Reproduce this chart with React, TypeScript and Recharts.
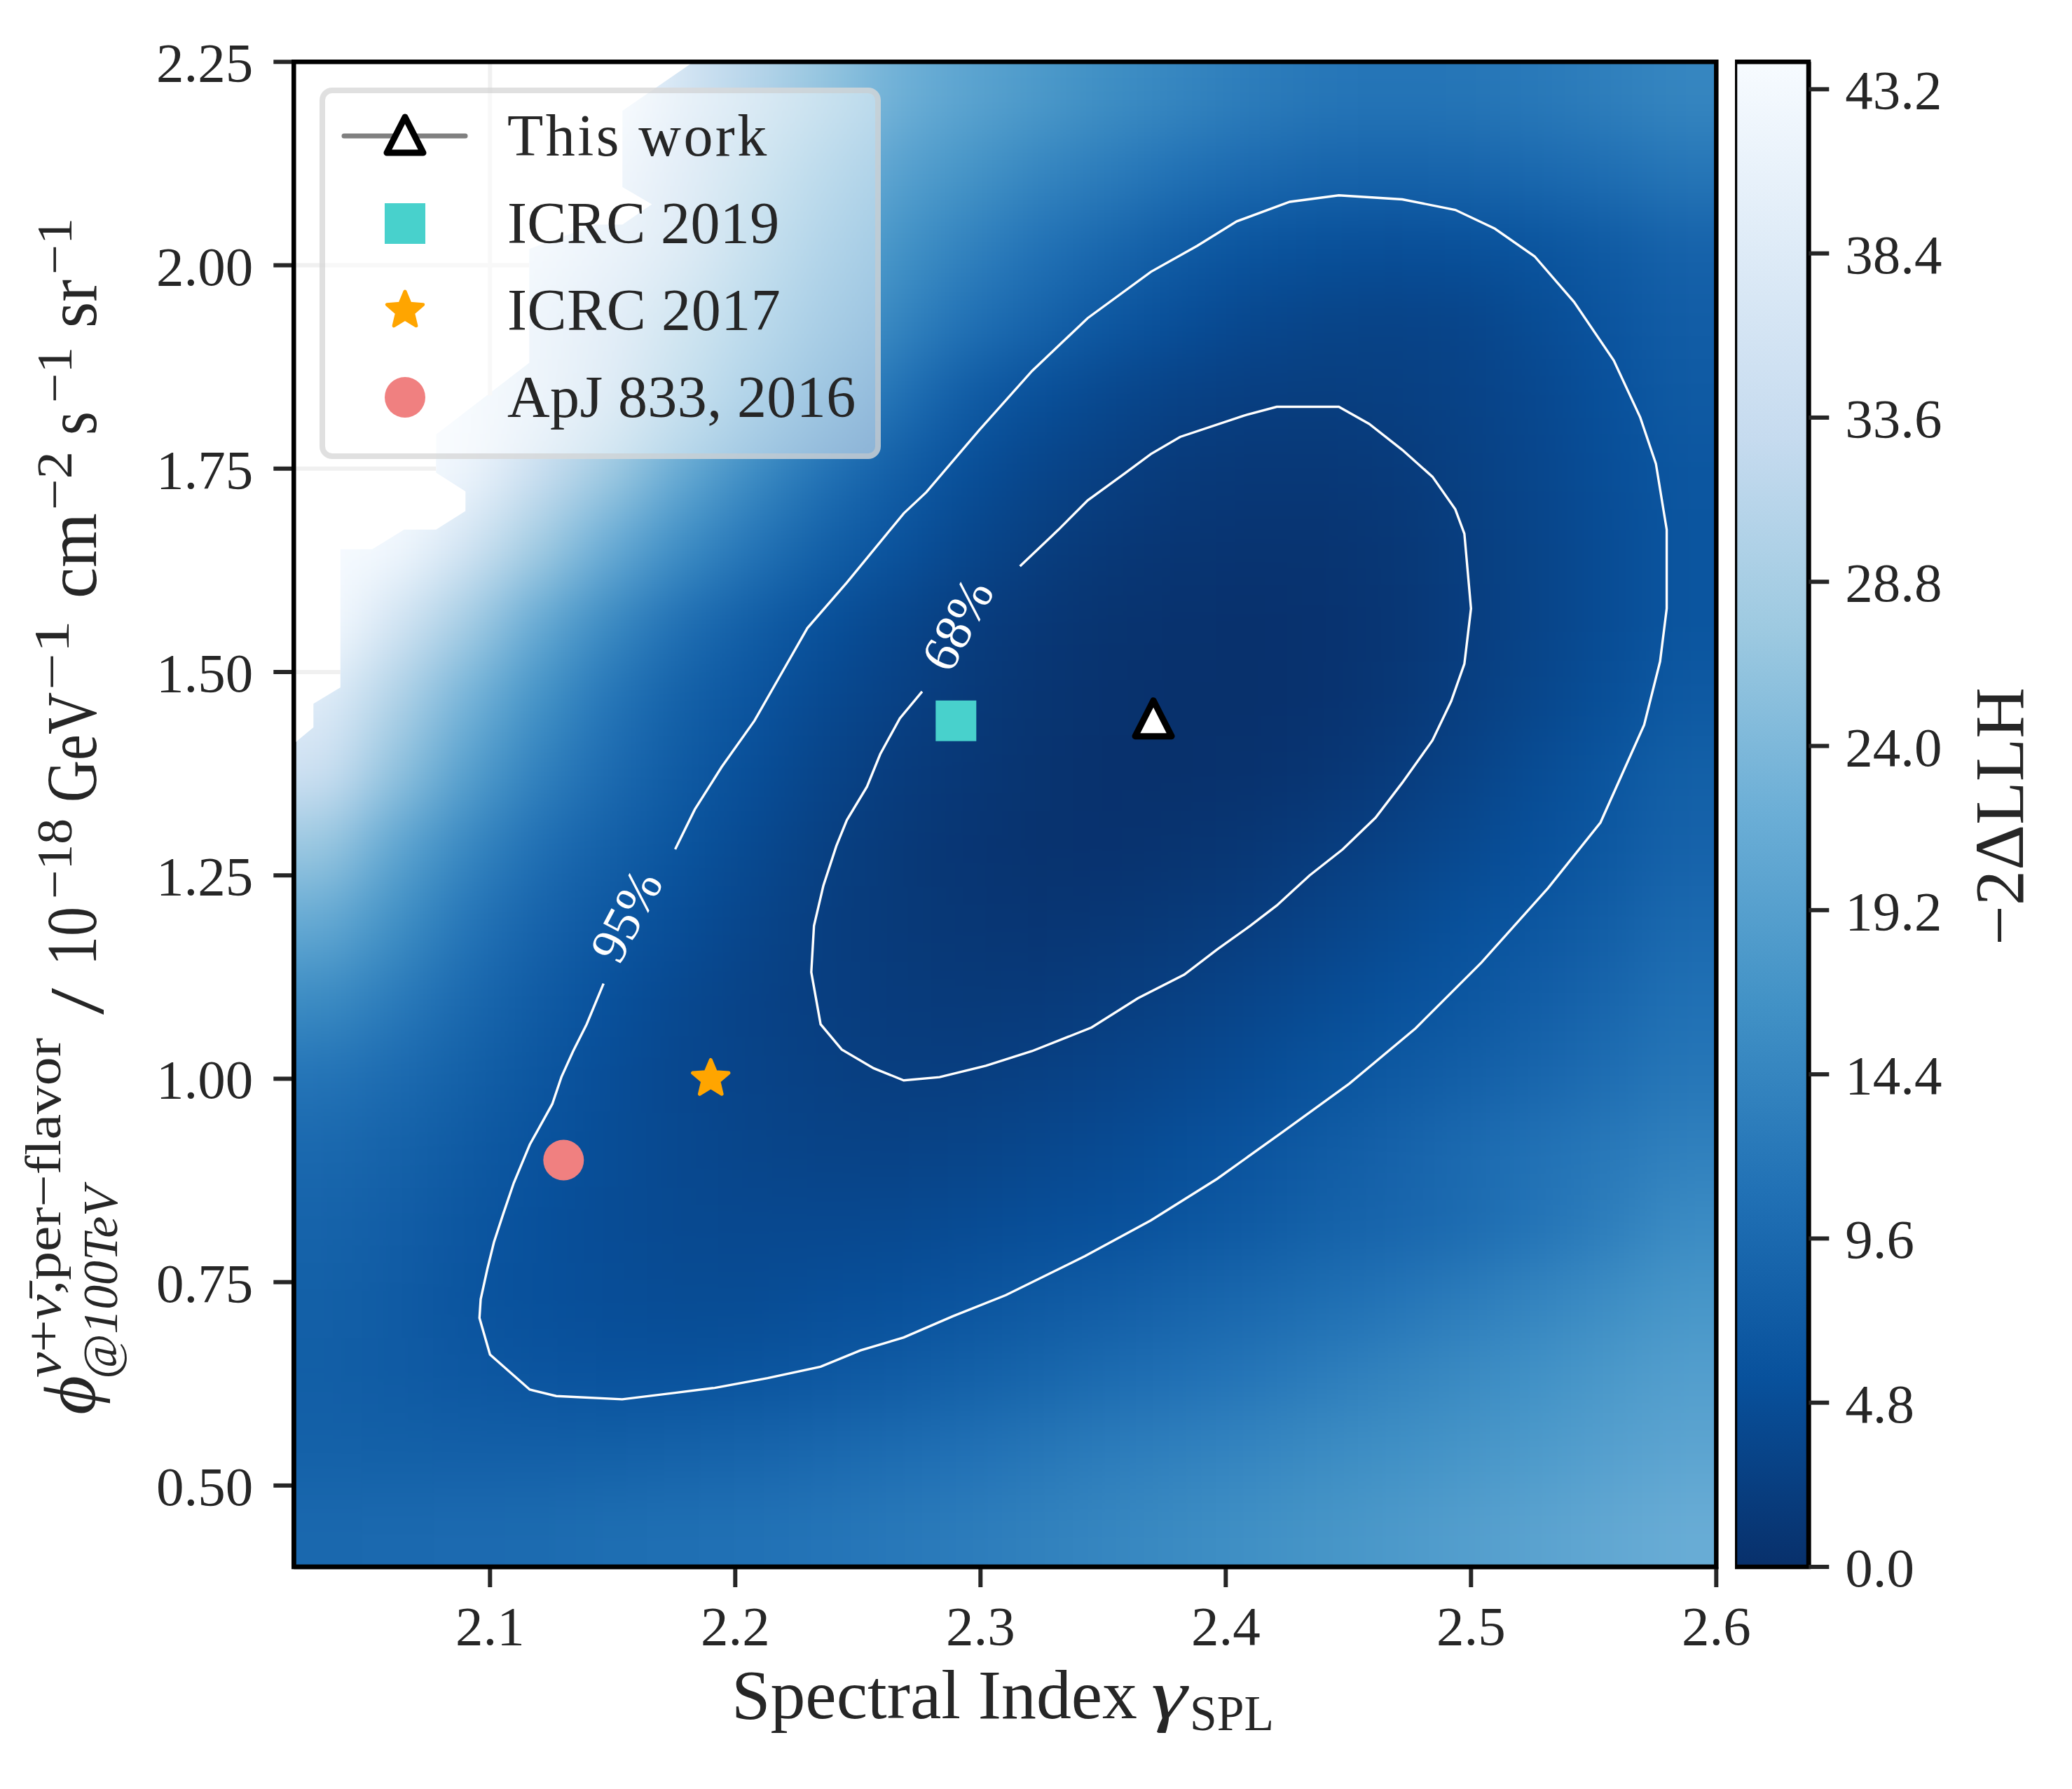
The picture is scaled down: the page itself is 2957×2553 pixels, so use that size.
import React from 'react';
import {
  Area,
  Bar,
  ComposedChart,
  Legend,
  ReferenceArea,
  ReferenceLine,
  Scatter,
  XAxis,
  YAxis,
} from 'recharts';

const FONT = '"Liberation Serif", serif';
const INK = '#262626';

const xTicks = [2.1, 2.2, 2.3, 2.4, 2.5, 2.6];
const yTicks = [0.5, 0.75, 1.0, 1.25, 1.5, 1.75, 2.0, 2.25];
const barTicks = [0, 4.8, 9.6, 14.4, 19.2, 24, 28.8, 33.6, 38.4, 43.2];

// Blues_r
const blues = ['#08306b', '#08519c', '#2171b5', '#4292c6', '#6baed6', '#9ecae1', '#c6dbef', '#deebf7', '#f7fbff'];

// -2 delta LLH, one row per flux value, top to bottom
const xCells = [2.0345, 2.0635, 2.0925, 2.1215, 2.1505, 2.1795, 2.2085, 2.2375, 2.2665, 2.2955, 2.3245, 2.3535, 2.3825, 2.4115, 2.4405, 2.4695, 2.4985, 2.5275, 2.5565, 2.5855];
const yCells = [2.2038, 2.1113, 2.0188, 1.9263, 1.8338, 1.7413, 1.6488, 1.5563, 1.4638, 1.3713, 1.2788, 1.1863, 1.0938, 1.0013, 0.9088, 0.8163, 0.7238, 0.6313, 0.5388, 0.4463];
const llhRows = [
  [44, 44, 44, 44, 44, 36, 31, 26.5, 22.5, 20, 18, 16, 14.5, 13, 12, 11.5, 11.8, 12.4, 13.3, 14.5],
  [44, 44, 44, 44, 40, 33, 28, 23.5, 19.5, 17, 14.5, 12.8, 11, 9.8, 9, 8.7, 9, 9.6, 10.5, 11.8],
  [44, 44, 44, 41, 37, 32, 26, 21, 16.8, 13.8, 11.2, 9.2, 7.3, 6, 5.3, 5, 5.3, 6, 7, 8.5],
  [44, 44, 42, 38, 33.5, 28, 23.5, 18.5, 14.5, 11, 8.7, 6.6, 5, 3.9, 3.3, 3.1, 3.4, 4.6, 6.1, 7.6],
  [44, 44, 42, 38, 32, 26, 20.5, 15.5, 11, 7.2, 5.2, 3.8, 2.9, 2.4, 2.3, 2.5, 3, 3.9, 5.4, 7],
  [44, 44, 42, 34, 27.5, 21, 15.5, 11, 7.8, 5.2, 3.5, 2.5, 1.7, 1.3, 1.3, 1.7, 2.6, 3.7, 5, 6.3],
  [44, 43, 36, 28, 21.5, 15.7, 11.5, 8, 5.9, 3.8, 2.3, 1.4, 0.9, 0.7, 0.7, 1.1, 2.3, 3.3, 4.7, 6.2],
  [44, 36, 28.5, 21, 15, 10.5, 7.5, 5.4, 3.6, 2.2, 1.2, 0.6, 0.3, 0.2, 0.4, 1, 2.2, 3.3, 4.7, 6.2],
  [39, 30, 23, 16.5, 11.5, 8, 6.1, 4.2, 2.9, 1.6, 0.8, 0.3, 0.1, 0.1, 0.4, 1.1, 2.4, 3.6, 5.1, 6.8],
  [35, 26, 19, 13.5, 9.8, 7, 5, 3.4, 2, 1.2, 0.6, 0.2, 0.1, 0.3, 0.9, 1.9, 3.1, 4.6, 6.2, 8],
  [27, 20, 14.5, 10.5, 7.9, 6, 4.2, 2.6, 1.6, 0.9, 0.5, 0.4, 0.6, 1.1, 2, 3, 4.2, 5.4, 6.7, 8.5],
  [21, 16, 11.5, 8.5, 6.5, 4.9, 3.5, 2.4, 1.6, 1.1, 0.9, 1.1, 1.6, 2.2, 3.2, 4.3, 5.5, 6.4, 7.8, 9.7],
  [15.5, 12.5, 9.4, 7.2, 5.4, 4, 3, 2.4, 1.9, 1.6, 1.7, 2.1, 2.7, 3.5, 4.5, 5.5, 6.3, 7.6, 9, 10.8],
  [11.5, 9.8, 8, 6.4, 4.9, 3.9, 3.2, 2.7, 2.3, 2.4, 2.7, 3.2, 3.9, 4.7, 5.8, 6.8, 7.9, 9, 10.3, 11.8],
  [9.5, 8.4, 7, 5.7, 4.8, 4, 3.5, 3.1, 3, 3.3, 3.8, 4.4, 5.2, 6.1, 7.2, 8.5, 9.8, 11, 12.2, 13.5],
  [8.6, 7.6, 6.4, 5.4, 4.7, 4.2, 4, 4, 4.2, 4.5, 5, 5.4, 6.2, 7, 8.2, 9, 10, 11.3, 13, 15.4],
  [8, 7.2, 6.1, 5.4, 4.9, 4.6, 4.6, 5, 5.4, 6.1, 6.8, 7.6, 8.6, 9.4, 10.4, 11.5, 12.8, 14.2, 15.7, 17.2],
  [7.8, 7.2, 6.6, 6.1, 5.7, 5.7, 6, 6.6, 7.2, 8, 8.9, 9.9, 10.7, 11.7, 12.8, 14, 15.2, 16.4, 17.6, 18.8],
  [8.2, 8, 7.9, 7.9, 8, 8.4, 8.8, 9.4, 10.1, 10.9, 11.8, 12.8, 13.5, 14.4, 15.3, 16.2, 17.1, 18, 19.1, 20],
  [9.5, 9.6, 9.8, 10, 10.4, 10.6, 11, 11.5, 12.2, 12.9, 13.7, 14.5, 15.3, 16.1, 17, 17.9, 18.8, 19.7, 20.6, 21.6],
];

// lower edge of the part of the scan that has no values (top left)
const noDataEdge = [
  [2.02, 1.412], [2.028, 1.432], [2.028, 1.461], [2.039, 1.481], [2.039, 1.651], [2.052, 1.651], [2.065, 1.675],
  [2.078, 1.675], [2.09, 1.698], [2.09, 1.722], [2.078, 1.745], [2.078, 1.792], [2.116, 1.88], [2.116, 2.02],
  [2.143, 2.05], [2.154, 2.05], [2.166, 2.075], [2.154, 2.096], [2.154, 2.19], [2.183, 2.25],
];
const gridSegments = [
  [[2.1, 1.84], [2.1, 2.25]],
  [[2.02, 2.0], [2.116, 2.0]],
  [[2.02, 1.75], [2.078, 1.75]],
  [[2.02, 1.5], [2.039, 1.5]],
];

const contour95 = [
  [2.1463, 1.117], [2.1394, 1.067], [2.1339, 1.034], [2.1291, 1.002], [2.1254, 0.969], [2.1162, 0.919], [2.1097, 0.872],
  [2.1054, 0.834], [2.1016, 0.799], [2.0989, 0.766], [2.0962, 0.729], [2.0957, 0.706], [2.1, 0.661], [2.1162, 0.618],
  [2.127, 0.61], [2.1539, 0.606], [2.1755, 0.614], [2.1916, 0.62], [2.2132, 0.632], [2.2348, 0.646], [2.251, 0.666],
  [2.2687, 0.682], [2.2887, 0.708], [2.3103, 0.734], [2.3426, 0.782], [2.3695, 0.826], [2.3965, 0.877], [2.4234, 0.935],
  [2.4504, 0.994], [2.4774, 1.062], [2.5043, 1.143], [2.5313, 1.234], [2.5528, 1.315], [2.5706, 1.435], [2.5771, 1.513],
  [2.5798, 1.578], [2.5798, 1.675], [2.5754, 1.756], [2.569, 1.813], [2.5582, 1.883], [2.542, 1.955], [2.5259, 2.011],
  [2.5097, 2.045], [2.4936, 2.068], [2.472, 2.081], [2.4461, 2.086], [2.4261, 2.078], [2.4045, 2.054], [2.3884, 2.024],
  [2.3695, 1.992], [2.3437, 1.935], [2.321, 1.87], [2.2994, 1.797], [2.2779, 1.721], [2.2687, 1.695], [2.2455, 1.61],
  [2.2294, 1.554], [2.2186, 1.497], [2.2078, 1.44], [2.1944, 1.383], [2.1835, 1.331], [2.1755, 1.282],
];
const contour68 = [
  [2.3161, 1.63], [2.3318, 1.675], [2.3437, 1.711], [2.3588, 1.744], [2.3695, 1.768], [2.3814, 1.789], [2.4072, 1.815],
  [2.4208, 1.826], [2.4461, 1.826], [2.4585, 1.805], [2.472, 1.773], [2.4843, 1.74], [2.4936, 1.7], [2.4973, 1.67],
  [2.5, 1.578], [2.4973, 1.51], [2.4919, 1.464], [2.4843, 1.416], [2.472, 1.364], [2.4611, 1.321], [2.4477, 1.282],
  [2.4342, 1.25], [2.4208, 1.213], [2.41, 1.188], [2.3965, 1.159], [2.3831, 1.128], [2.3642, 1.099], [2.3453, 1.063],
  [2.321, 1.034], [2.3022, 1.016], [2.2833, 1.002], [2.2687, 0.998], [2.2564, 1.013], [2.2434, 1.036], [2.2348, 1.067],
  [2.231, 1.131], [2.2321, 1.188], [2.2359, 1.237], [2.2412, 1.286], [2.2455, 1.318], [2.2537, 1.359], [2.2591, 1.399],
  [2.2671, 1.443], [2.2762, 1.476],
];
const contourLabels = [
  { x: 2.1575, y: 1.197, text: '95%' },
  { x: 2.2925, y: 1.555, text: '68%' },
];

const thisWork = [{ x: 2.3705, y: 1.44 }];
const icrc2019 = [{ x: 2.29, y: 1.44 }];
const icrc2017 = [{ x: 2.19, y: 1.0 }];
const apj2016 = [{ x: 2.13, y: 0.9 }];

const legendRows = ['This work', 'ICRC 2019', 'ICRC 2017', 'ApJ 833, 2016'];
const legendSpacing = [3.4, 0.4, 0.6, 0.4];

// pieces of the rotated y label: text, baseline x, start y, length, size
const yLabelParts: [string, number, number, number, number][] = [
  ['@100TeV', 167, 1968, 275, 70],
  ['/', 147, 1448, 38, 110],
  ['10', 137, 1378, 84, 102],
  ['−18', 102, 1283, 115, 72],
  ['GeV', 137, 1145, 157, 102],
  ['−1', 98, 985, 100, 72],
  ['cm', 137, 854, 122, 102],
  ['−2', 102, 728, 84, 72],
  ['s', 137, 621, 34, 102],
  ['−1', 102, 575, 80, 72],
  ['sr', 137, 468, 69, 102],
  ['−1', 102, 392, 81, 72],
];

const toPoints = (rows: number[][]) => rows.map(([x, y]) => ({ x, y }));

const heatCells = yCells.flatMap((y, r) =>
  xCells.map((x, c) => ({ x, y, v: llhRows[r][c], r, c })),
);
const noDataArea = noDataEdge.map(([x, y]) => ({ x, band: [y, 2.25] }));

const colorFor = (v: number) => {
  const t = Math.min(Math.max(v / 44, 0), 1) * (blues.length - 1);
  const i = Math.min(Math.floor(t), blues.length - 2);
  const mix = (k: number) => {
    const a = parseInt(blues[i].slice(k, k + 2), 16);
    const b = parseInt(blues[i + 1].slice(k, k + 2), 16);
    return Math.round(a + (b - a) * (t - i));
  };
  return `rgb(${mix(1)},${mix(3)},${mix(5)})`;
};

const HeatCell = (props: any) => {
  const { cx, cy, payload } = props;
  const w = 55;
  const h = 58;
  const left = payload.c === 0 ? 260 : w;
  const right = payload.c === xCells.length - 1 ? 260 : w;
  const top = payload.r === 0 ? 260 : h;
  const bottom = payload.r === yCells.length - 1 ? 260 : h;
  return <rect x={cx - left} y={cy - top} width={left + right} height={top + bottom} fill={colorFor(payload.v)} />;
};

const Triangle = ({ cx, cy }: any) => (
  <path
    d={`M${cx} ${cy - 29}L${cx + 26} ${cy + 22}L${cx - 26} ${cy + 22}Z`}
    fill="#fff"
    stroke="#000"
    strokeWidth={9}
    strokeLinejoin="round"
  />
);
const Square = ({ cx, cy }: any) => <rect x={cx - 29} y={cy - 29} width={58} height={58} fill="#48d1cc" />;
const starPath = (cx: number, cy: number, r: number) => {
  let d = '';
  for (let i = 0; i < 10; i++) {
    const rad = i % 2 ? r * 0.45 : r;
    const a = (Math.PI * i) / 5;
    d += `${i ? 'L' : 'M'}${cx + rad * Math.sin(a)} ${cy - rad * Math.cos(a)}`;
  }
  return d + 'Z';
};
const Star = ({ cx, cy }: any) => (
  <path d={starPath(cx, cy, 27)} fill="#ffa500" stroke="#ffa500" strokeWidth={5} strokeLinejoin="round" />
);
const Dot = ({ cx, cy }: any) => <circle cx={cx} cy={cy} r={29} fill="#f08080" />;

const legendMarks = [
  <g>
    <line x1={7} x2={180} y1={43} y2={43} stroke="#808080" strokeWidth={7} strokeLinecap="round" />
    <Triangle cx={94} cy={45} />
  </g>,
  <Square cx={94} cy={43} />,
  <Star cx={94} cy={43} />,
  <Dot cx={94} cy={43} />,
];
const legendTops = [18, 143, 267, 391];

const LegendBox = () => (
  <div
    style={{
      position: 'relative',
      boxSizing: 'border-box',
      width: 801,
      height: 530,
      background: 'rgba(255,255,255,0.5)',
      border: '8px solid rgba(204,204,204,0.6)',
      borderRadius: 18,
      fontFamily: FONT,
      fontSize: 84,
      color: INK,
    }}
  >
    {legendRows.map((name, i) => (
      <div key={name} style={{ position: 'absolute', left: 0, top: legendTops[i], height: 90, whiteSpace: 'nowrap' }}>
        <svg width={200} height={90} style={{ position: 'absolute', left: 20, top: 0 }}>
          {legendMarks[i]}
        </svg>
        <span style={{ position: 'absolute', left: 260, top: 0, lineHeight: '86px', letterSpacing: legendSpacing[i] }}>
          {name}
        </span>
      </div>
    ))}
  </div>
);

const ContourText = (props: any) => {
  const { cx, cy, payload } = props;
  return (
    <text
      x={cx}
      y={cy}
      fill="#fff"
      fontFamily={FONT}
      fontSize={74}
      textAnchor="middle"
      dominantBaseline="middle"
      transform={`rotate(-62 ${cx} ${cy})`}
    >
      {payload.text}
    </text>
  );
};

const NoMark = () => <g />;

const AxisTexts = () => (
  <g fontFamily={FONT} fill={INK}>
    <text transform="translate(135,2019) rotate(-90)" fontSize={104} fontStyle="italic" textLength={56} lengthAdjust="spacingAndGlyphs">
      ϕ
    </text>
    <text transform="translate(86,1966) rotate(-90)" fontSize={72} textLength={485} lengthAdjust="spacingAndGlyphs">
      <tspan fontStyle="italic">ν</tspan>+<tspan fontStyle="italic">ν̄</tspan>,per−flavor
    </text>
    {yLabelParts.map(([text, x, y, len, size], i) => (
      <text
        key={i}
        transform={`translate(${x},${y}) rotate(-90)`}
        fontSize={size}
        fontStyle={i === 0 ? 'italic' : 'normal'}
        textLength={len}
        lengthAdjust="spacingAndGlyphs"
      >
        {text}
      </text>
    ))}
    <text x={1044} y={2452} fontSize={99} textLength={579} lengthAdjust="spacingAndGlyphs">
      Spectral Index
    </text>
    <text x={1643} y={2452} fontSize={100} fontStyle="italic" textLength={51} lengthAdjust="spacingAndGlyphs">
      γ
    </text>
    <text x={1698} y={2469} fontSize={72} textLength={120} lengthAdjust="spacingAndGlyphs">
      SPL
    </text>
    <text
      transform="translate(2887,1349) rotate(-90)"
      fontSize={100}
      textLength={368}
      lengthAdjust="spacingAndGlyphs"
    >
      −2ΔLLH
    </text>
  </g>
);

export default function App() {
  const tick = { fill: INK, fontSize: 79, fontFamily: FONT };
  const tickLine = { stroke: INK, strokeWidth: 6 };
  const axisLine = { stroke: '#000', strokeWidth: 6.5 };
  return (
    <div style={{ position: 'absolute', left: 0, top: 0, width: 2957, height: 2553, background: '#fff' }}>
      <style>{`.heat-layer { filter: url(#heatBlur); clip-path: url(#plotClip); }`}</style>
      <div style={{ position: 'absolute', left: 0, top: 0 }}>
        <ComposedChart width={2957} height={2553} margin={{ top: 88.3, right: 507.7, bottom: 0, left: 0 }}>
          <defs>
            <filter
              id="heatBlur"
              filterUnits="userSpaceOnUse"
              x={0}
              y={0}
              width={2957}
              height={2553}
              colorInterpolationFilters="sRGB"
            >
              <feGaussianBlur stdDeviation={44} />
            </filter>
            <clipPath id="plotClip" clipPathUnits="userSpaceOnUse">
              <rect x={419.3} y={88.3} width={2030} height={2147.7} />
            </clipPath>
          </defs>
          <XAxis
            dataKey="x"
            type="number"
            domain={[2.02, 2.6]}
            ticks={xTicks}
            interval={0}
            height={317}
            allowDataOverflow
            tick={tick}
            tickLine={tickLine}
            axisLine={axisLine}
            tickSize={29}
            tickMargin={26}
            tickFormatter={(v: number) => v.toFixed(1)}
          />
          <YAxis
            dataKey="y"
            type="number"
            domain={[0.4, 2.25]}
            ticks={yTicks}
            interval={0}
            width={419.3}
            allowDataOverflow
            tick={tick}
            tickLine={tickLine}
            axisLine={axisLine}
            tickSize={29}
            tickMargin={29}
            tickFormatter={(v: number) => v.toFixed(2)}
          />
          <Scatter
            className="heat-layer"
            data={heatCells}
            shape={HeatCell}
            isAnimationActive={false}
            zIndex={100}
          />
          <Area
            data={noDataArea}
            dataKey="band"
            type="linear"
            stroke="none"
            fill="#fff"
            fillOpacity={1}
            dot={false}
            activeDot={false}
            isAnimationActive={false}
            zIndex={650}
          />
          {gridSegments.map((seg, i) => (
            <ReferenceLine
              key={i}
              segment={toPoints(seg) as any}
              stroke="#f0f0f0"
              strokeWidth={6}
              zIndex={660}
            />
          ))}
          <Scatter
            data={toPoints(contour95)}
            line={{ stroke: '#fff', strokeWidth: 3.4 }}
            lineType="joint"
            shape={NoMark}
            isAnimationActive={false}
            zIndex={700}
          />
          <Scatter
            data={toPoints(contour68)}
            line={{ stroke: '#fff', strokeWidth: 3.4 }}
            lineType="joint"
            shape={NoMark}
            isAnimationActive={false}
            zIndex={700}
          />
          <Scatter data={contourLabels} shape={ContourText} isAnimationActive={false} zIndex={710} />
          <Scatter data={thisWork} shape={Triangle} isAnimationActive={false} zIndex={800} />
          <Scatter data={icrc2019} shape={Square} isAnimationActive={false} zIndex={800} />
          <Scatter data={icrc2017} shape={Star} isAnimationActive={false} zIndex={800} />
          <Scatter data={apj2016} shape={Dot} isAnimationActive={false} zIndex={800} />
          <ReferenceArea
            x1={2.02}
            x2={2.6}
            y1={0.4}
            y2={2.25}
            fill="none"
            stroke="#000"
            strokeWidth={6.5}
            ifOverflow="visible"
            zIndex={900}
          />
          <AxisTexts />
          <Legend
            layout="vertical"
            align="center"
            verticalAlign="middle"
            content={<LegendBox />}
            wrapperStyle={{ left: 456, top: 125, width: 801, height: 530, bottom: 'auto', right: 'auto' }}
          />
        </ComposedChart>
      </div>
      <div style={{ position: 'absolute', left: 2476, top: 0 }}>
        <ComposedChart
          width={481}
          height={2553}
          data={[{ name: 'llh', top: 44 }]}
          margin={{ top: 88.3, right: 0, bottom: 0, left: 0 }}
          barCategoryGap={0}
        >
          <defs>
            <linearGradient id="barFill" x1="0" y1="1" x2="0" y2="0">
              {blues.map((c, i) => (
                <stop key={c} offset={i / (blues.length - 1)} stopColor={c} />
              ))}
            </linearGradient>
          </defs>
          <XAxis dataKey="name" type="category" height={317} tick={false} tickLine={false} axisLine={false} />
          <YAxis
            orientation="right"
            type="number"
            domain={[0, 44]}
            ticks={barTicks}
            interval={0}
            width={375.7}
            tick={tick}
            tickLine={tickLine}
            axisLine={axisLine}
            tickSize={29}
            tickMargin={23}
            tickFormatter={(v: number) => v.toFixed(1)}
          />
          <Bar dataKey="top" fill="url(#barFill)" stroke="#000" strokeWidth={6.5} isAnimationActive={false} />
        </ComposedChart>
      </div>
    </div>
  );
}
